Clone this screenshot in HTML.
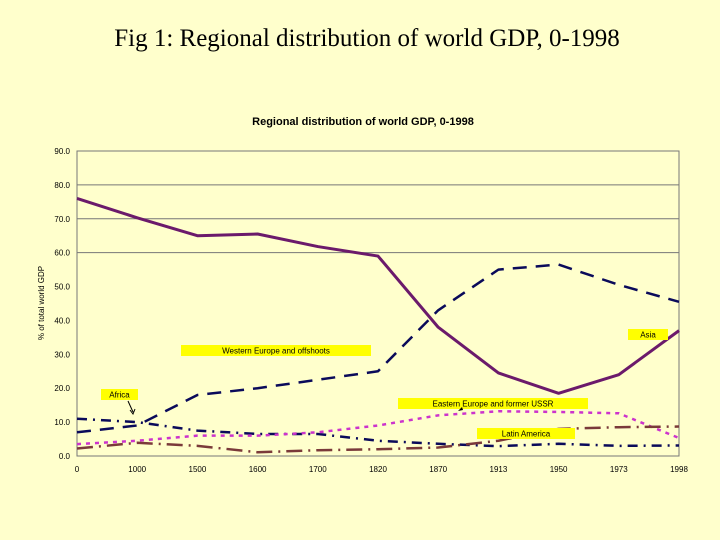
<!DOCTYPE html>
<html><head><meta charset="utf-8"><style>
body{margin:0;background:#FFFFCC;}
svg{display:block;font-family:"Liberation Sans",sans-serif;}
</style></head><body>
<svg id="c" width="720" height="540">
<rect width="720" height="540" fill="#FFFFCC"/>
<text x="367" y="46" text-anchor="middle" font-family="Liberation Serif,serif" font-size="25" fill="#000">Fig 1: Regional distribution of world GDP, 0-1998</text>
<text x="363" y="125" text-anchor="middle" font-size="11" font-weight="bold" fill="#000">Regional distribution of world GDP, 0-1998</text>
<text transform="translate(44,303) rotate(-90)" text-anchor="middle" font-size="8" fill="#000">% of total world GDP</text>
<g id="grid"></g><g id="lines"></g><g id="labels"></g>
</svg>
<script>
const categories=["0","1000","1500","1600","1700","1820","1870","1913","1950","1973","1998"];
const yTicks=[0,10,20,30,40,50,60,70,80,90];
const asia=[76,70.3,65,65.5,61.8,59,38,24.5,18.5,24,37];
const westernEurope=[7,9,18,20,22.5,25,43,55,56.5,50.5,45.5];
const africa=[11,10,7.5,6.5,6.5,4.5,3.6,2.9,3.6,3,3.1];
const easternEurope=[3.5,4.5,6,6,7,9,12,13.2,13,12.6,5.3];
const latinAmerica=[2.2,3.9,3,1.1,1.7,2,2.5,4.5,8,8.5,8.7];
const x0=77,x1=679,y0=456,y1=151,ymax=90;
const X=i=>x0+i*(x1-x0)/(categories.length-1);
const Y=v=>y0-v/ymax*(y0-y1);
const NS="http://www.w3.org/2000/svg";
function mk(tag,attrs,parent){const e=document.createElementNS(NS,tag);for(const k in attrs)e.setAttribute(k,attrs[k]);parent.appendChild(e);return e;}
const grid=document.getElementById('grid');
yTicks.forEach(t=>{
 if(t>=60){const l=mk('line',{x1:x0,x2:x1,y1:Y(t),y2:Y(t),stroke:'#777','stroke-width':1},grid);
 
 }
 const tx=mk('text',{x:70,y:Y(t)+3,'text-anchor':'end','font-size':8},grid);tx.textContent=t.toFixed(1);
 
 
});
const fr=mk('rect',{x:x0,y:y1,width:x1-x0,height:y0-y1,fill:'none',stroke:'#777'},grid);


categories.forEach((c,i)=>{
 const t=mk('text',{x:X(i),y:472,'text-anchor':'middle','font-size':8},grid);t.textContent=c;
 
 
});
const series=[
 ['asia-line',asia,'#6B1A6B',3,'none'],
 ['western-europe-line',westernEurope,'#0A0A5A',2.5,'14 9'],
 ['africa-line',africa,'#0A0A5A',2.5,'10 6 2 6'],
 ['eastern-europe-line',easternEurope,'#CC33CC',2.5,'4 5'],
 ['latin-america-line',latinAmerica,'#7A3A3A',2.5,'16 6 2 6']];
const lines=document.getElementById('lines');
series.forEach(s=>{
 const p=mk('polyline',{points:s[1].map((v,i)=>X(i)+','+Y(v)).join(' '),fill:'none',stroke:s[2],'stroke-width':s[3],'stroke-dasharray':s[4],'stroke-linejoin':'round'},lines);
 
 
});
const labs=[['western-europe-label','Western Europe and offshoots',181,345,190],['africa-label','Africa',101,389,37],['asia-label','Asia',628,329,40],['eastern-europe-label','Eastern Europe and former USSR',398,398,190],['latin-america-label','Latin America',477,428,98]];
const lg=document.getElementById('labels');
labs.forEach(l=>{
 const g=mk('g',{},lg);
 
 
 mk('rect',{x:l[2],y:l[3],width:l[4],height:11,fill:'#FFFF00'},g);
 const t=mk('text',{x:l[2]+l[4]/2,y:l[3]+8.5,'text-anchor':'middle','font-size':8},g);t.textContent=l[1];
});
mk('path',{d:'M128 401 L133 412 M130 410 L133 414 L135 409',stroke:'#000',fill:'none','stroke-width':1},lg);
mk('path',{d:'M462 407 L458 411 L463 410 Z',fill:'#000'},lg);
</script>
</body></html>
